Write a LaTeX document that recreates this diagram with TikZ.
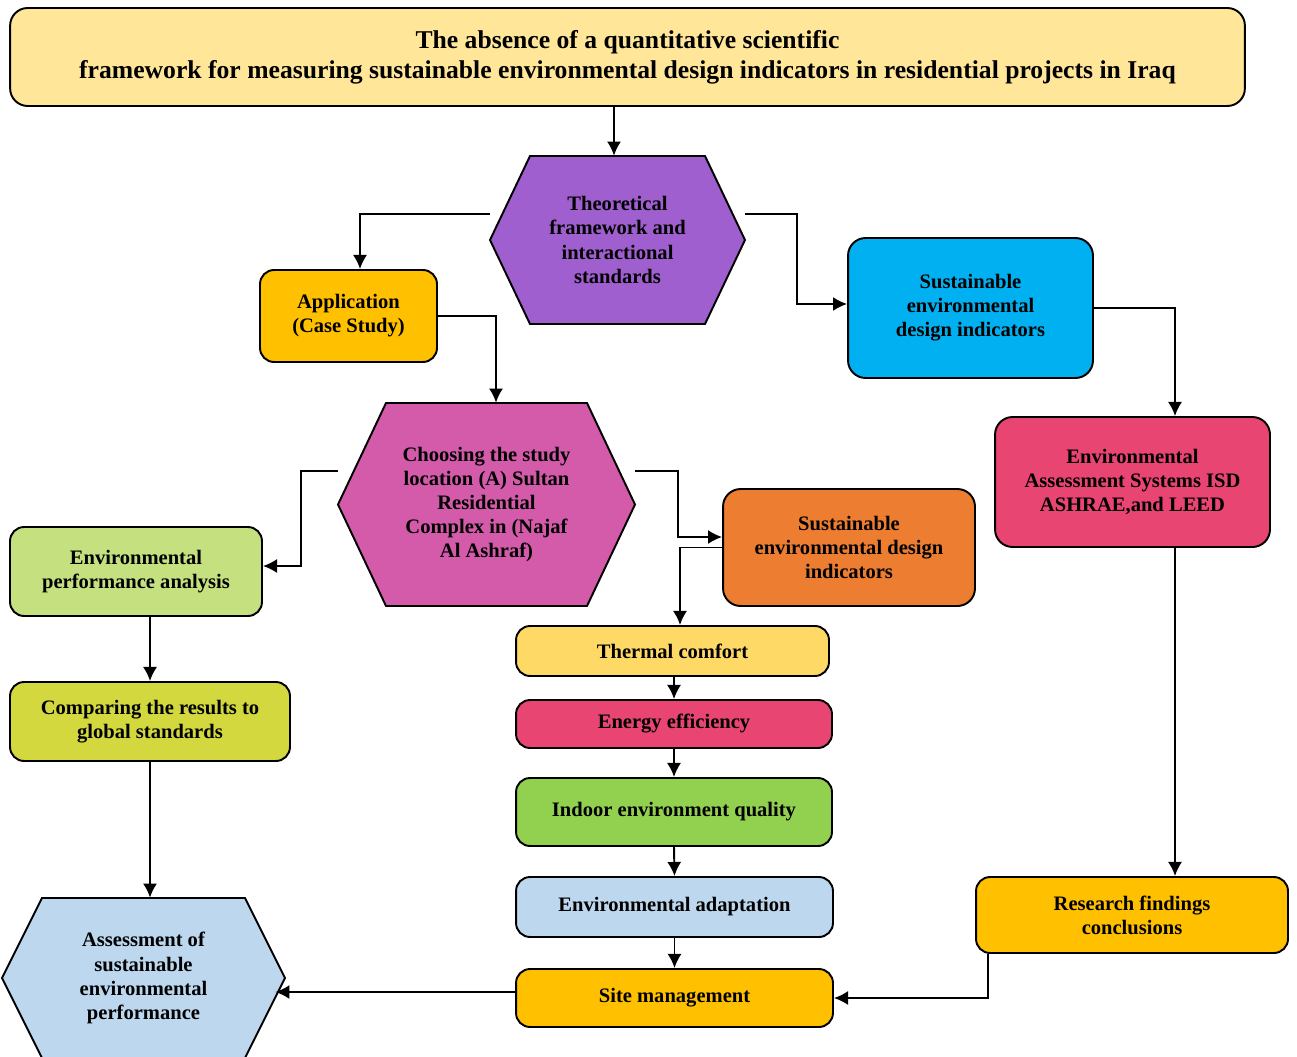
\documentclass[tikz,border=0pt]{standalone}
\usepackage{fontspec}
\setmainfont{Liberation Serif}
\usepackage{xcolor}
\usetikzlibrary{arrows.meta}

\definecolor{topyellow}{HTML}{FFE699}
\definecolor{theopurple}{HTML}{9F5FCF}
\definecolor{amber}{HTML}{FFC000}
\definecolor{skyblue}{HTML}{00B0F0}
\definecolor{rosered}{HTML}{E84573}
\definecolor{magentapink}{HTML}{D45BAA}
\definecolor{lightgreen}{HTML}{C5E07F}
\definecolor{olivegreen}{HTML}{D3D83F}
\definecolor{darkorange}{HTML}{ED7D31}
\definecolor{paleyellow}{HTML}{FFD966}
\definecolor{leafgreen}{HTML}{92D050}
\definecolor{paleblue}{HTML}{BDD7EE}

% hexagon: name, x, y, half width, half height, inset, colour, text
\newcommand{\hexnode}[8]{%
  \filldraw[fill=#7,line width=1.1pt,line join=miter]
    (#2-#4,#3) -- (#2-#4+#6,#3-#5) -- (#2+#4-#6,#3-#5) -- (#2+#4,#3)
    -- (#2+#4-#6,#3+#5) -- (#2-#4+#6,#3+#5) -- cycle;
  \node[txt,inner sep=0pt,minimum width={2*#4*0.02cm},minimum height={2*#5*0.02cm}] (#1) at (#2,#3) {#8};}

\begin{document}
\begin{tikzpicture}[x=0.02cm,y=-0.02cm,
    txt/.style={align=center,font=\fontsize{11.7}{13.7}\selectfont\bfseries},
    box/.style={txt,draw,line width=1.1pt,rounded corners=8pt,inner sep=2pt},
    link/.style={line width=1.1pt,-{Latex[length=8pt,width=8pt]}}]
\useasboundingbox (0,0) rectangle (1297,1057);

% problem statement
\node[box,fill=topyellow,rounded corners=10pt,minimum width=24.7cm,minimum height=1.96cm,
      font=\fontsize{14.6}{17}\selectfont\bfseries] (top) at (627.5,57)
  {The absence of a quantitative scientific\\
   framework for measuring sustainable environmental design indicators in residential projects in Iraq};

% hexagons
\hexnode{theo}{617.5}{240}{127.5}{84}{40}{theopurple}{Theoretical\\ framework and\\ interactional\\ standards}
\hexnode{choose}{486.5}{504.5}{148.5}{101.5}{48}{magentapink}{Choosing the study\\ location (A) Sultan\\ Residential\\ Complex in (Najaf\\ Al Ashraf)}
\hexnode{assess}{143.5}{978}{141.5}{80}{40}{paleblue}{Assessment of\\ sustainable\\ environmental\\ performance}

% boxes
\node[box,fill=amber,minimum width=3.54cm,minimum height=1.84cm] (app) at (348.5,316) {Application\\ (Case Study)};
\node[box,fill=skyblue,rounded corners=10pt,minimum width=4.9cm,minimum height=2.8cm] (sust1) at (970.5,308)
  {Sustainable\\ environmental\\ design indicators};
\node[box,fill=rosered,rounded corners=10pt,minimum width=5.5cm,minimum height=2.6cm] (envassess) at (1132.5,482)
  {Environmental\\ Assessment Systems ISD\\ ASHRAE,and LEED};
\node[box,fill=amber,minimum width=6.24cm,minimum height=1.52cm] (research) at (1132,915)
  {Research findings\\ conclusions};
\node[box,fill=lightgreen,minimum width=5.04cm,minimum height=1.78cm] (envperf) at (136,571.5)
  {Environmental\\ performance analysis};
\node[box,fill=olivegreen,minimum width=5.6cm,minimum height=1.58cm] (compare) at (150,721.5)
  {Comparing the results to\\ global standards};
\node[box,fill=darkorange,rounded corners=10pt,minimum width=5.04cm,minimum height=2.34cm] (sust2) at (849,547.5)
  {Sustainable\\ environmental design\\ indicators};

% indicator column
\node[box,fill=paleyellow,minimum width=6.26cm,minimum height=1cm] (thermal) at (672.5,651) {Thermal comfort};
\node[box,fill=rosered,minimum width=6.32cm,minimum height=0.96cm] (energy) at (674,724) {Energy efficiency};
\node[box,fill=leafgreen,minimum width=6.32cm,minimum height=1.36cm] (indoor) at (674,812) {Indoor environment quality};
\node[box,fill=paleblue,minimum width=6.34cm,minimum height=1.2cm] (adapt) at (674.5,907) {Environmental adaptation};
\node[box,fill=amber,minimum width=6.34cm,minimum height=1.16cm] (site) at (674.5,998) {Site management};

% connectors
\draw[link] (top.south -| 614,0) -- (614,0 |- theo.north);
\draw[link] ([yshift=0.52cm]theo.west) -| ([xshift=0.23cm]app.north);
\draw[link] ([yshift=0.52cm]theo.east) -- ++(52,0) |- ([yshift=0.08cm]sust1.west);
\draw[link] (sust1.east) -| ([xshift=0.85cm]envassess.north);
\draw[link] ([xshift=0.85cm]envassess.south) -- ([xshift=0.85cm]envassess.south |- research.north);
\draw[link] ([xshift=-2.88cm]research.south) |- (site.east);
\draw[link] (app.east) -| ([xshift=0.19cm]choose.north);
\draw[link] ([yshift=0.67cm]choose.west) -- ++(-37,0) |- ([yshift=0.11cm]envperf.east);
\draw[link] ([yshift=0.67cm]choose.east) -- ++(43,0) |- ([yshift=0.21cm]sust2.west);
\draw[link] (sust2.west) -| ([xshift=0.15cm]thermal.north);
\draw[link] (compare.north |- envperf.south) -- (compare.north);
\draw[link] (compare.south) -- (compare.south |- assess.north);
\draw[link] (energy.north |- thermal.south) -- (energy.north);
\draw[link] (energy.south) -- (indoor.north);
\draw[link] (indoor.south) -- (adapt.north);
\draw[link] (adapt.south) -- (site.north);
\draw[link] ([yshift=0.12cm]site.west) -- ([yshift=0.12cm,xshift=-0.2cm]site.west -| assess.east);
\end{tikzpicture}
\end{document}
